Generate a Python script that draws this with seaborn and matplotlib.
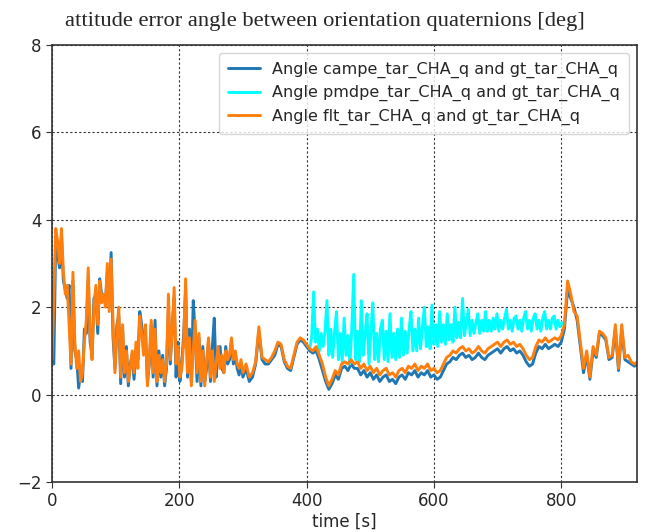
import matplotlib
matplotlib.use("Agg")
import matplotlib.pyplot as plt
import numpy as np
import pandas as pd
import seaborn as sns

# Sampling grids [s]
t_dense = list(range(0, 301, 3))      # 0 .. 300 s
t_coarse = list(range(305, 921, 5))   # 305 .. 920 s
t_pmdpe = list(range(405, 805, 3))    # 405 .. 804 s

# Attitude error angle [deg], campe vs ground truth
campe_dense = [
    2.6, 0.7, 3.6, 3.2, 2.9, 3.6, 2.6, 2.4, 2.2, 2.5,
    0.6, 2.6, 1.0, 0.8, 0.15, 0.5, 0.3, 1.5, 1.4, 2.6,
    1.2, 0.9, 2.2, 2.3, 1.4, 2.65, 2.3, 2.2, 2.1, 2.8,
    2.0, 3.25, 1.3, 0.6, 1.6, 1.8, 0.25, 1.5, 0.4, 1.1,
    0.2, 0.7, 0.9, 0.35, 1.0, 0.8, 1.9, 1.6, 1.2, 1.4,
    0.3, 0.7, 1.6, 0.4, 1.7, 0.2, 1.0, 0.4, 0.9, 0.2,
    0.6, 2.0, 0.7, 1.6, 2.2, 0.4, 1.2, 0.3, 0.7, 1.4,
    2.4, 0.4, 1.5, 0.3, 2.15, 1.4, 0.3, 1.3, 0.2, 1.1,
    0.3, 0.6, 1.2, 0.3, 1.1, 1.75, 0.4, 1.0, 1.1, 0.6,
    0.5, 1.1, 0.7, 0.8, 1.2, 0.7, 0.9, 0.6, 0.45, 0.7,
    0.4,
]
campe_coarse = [
    0.6, 0.3, 0.4, 0.7, 1.45, 0.8, 0.7, 0.7, 0.8, 0.9,
    1.15, 1.1, 0.75, 0.6, 0.55, 0.85, 1.15, 1.25, 1.2, 1.1,
    1.0, 0.95, 1.0, 0.8, 0.55, 0.3, 0.12, 0.25, 0.45, 0.35,
    0.6, 0.65, 0.55, 0.7, 0.6, 0.6, 0.45, 0.55, 0.4, 0.5,
    0.35, 0.45, 0.3, 0.4, 0.45, 0.3, 0.35, 0.25, 0.4, 0.45,
    0.35, 0.5, 0.45, 0.55, 0.4, 0.5, 0.45, 0.55, 0.4, 0.45,
    0.35, 0.4, 0.55, 0.7, 0.75, 0.85, 0.8, 0.9, 0.95, 0.85,
    0.9, 0.8, 0.85, 0.95, 0.85, 0.8, 0.9, 0.95, 1.0, 1.05,
    0.95, 1.05, 1.1, 1.0, 1.05, 0.95, 1.0, 0.9, 0.75, 0.65,
    0.7, 0.95, 1.1, 1.05, 1.15, 1.05, 1.1, 1.15, 1.1, 1.2,
    1.5, 2.4, 2.2, 2.0, 1.7, 1.1, 0.5, 0.9, 0.35, 1.0,
    0.85, 1.4, 1.35, 1.25, 0.8, 0.85, 1.5, 0.55, 1.5, 0.8,
    0.75, 0.7, 0.65, 0.7,
]

# pmdpe vs ground truth
pmdpe_vals = [
    1.05, 1.3, 2.35, 1.2, 1.5, 1.0, 1.4, 1.1, 1.45, 2.15,
    0.9, 1.5, 0.85, 1.45, 1.9, 0.8, 1.4, 0.75, 1.75, 0.9,
    1.35, 0.7, 1.5, 2.75, 0.8, 1.45, 0.75, 2.15, 0.9, 1.4,
    1.85, 0.7, 1.45, 2.1, 0.8, 1.4, 0.75, 1.5, 1.7, 0.8,
    1.45, 0.75, 1.85, 0.85, 1.4, 0.8, 1.5, 0.85, 1.75, 0.9,
    1.45, 0.95, 1.5, 1.9, 1.0, 1.5, 1.0, 1.75, 1.05, 1.55,
    2.0, 1.1, 1.55, 1.05, 2.05, 1.15, 1.6, 1.1, 1.9, 1.2,
    1.6, 1.15, 1.85, 1.25, 1.6, 1.2, 2.0, 1.3, 1.65, 1.3,
    2.2, 1.35, 1.65, 1.95, 1.35, 1.7, 1.4, 1.65, 1.85, 1.4,
    1.7, 1.45, 1.9, 1.45, 1.7, 1.45, 1.75, 1.5, 1.85, 1.45,
    1.7, 1.5, 1.75, 1.95, 1.5, 1.7, 1.45, 1.75, 1.8, 1.5,
    1.7, 1.45, 1.75, 1.9, 1.5, 1.7, 1.45, 1.75, 1.85, 1.5,
    1.7, 1.45, 1.75, 1.9, 1.5, 1.7, 1.5, 1.75, 1.8, 1.5,
    1.7, 1.55, 1.65, 1.6,
]

# filtered estimate vs ground truth
flt_dense = [
    0.8, 2.2, 3.8, 3.5, 3.0, 3.8, 2.8, 2.3, 2.5, 1.6,
    0.7, 2.8, 1.2, 0.6, 1.0, 0.3, 0.5, 1.2, 1.7, 2.9,
    1.4, 0.8, 2.0, 2.5, 1.6, 2.6, 2.1, 2.3, 2.0, 3.0,
    1.9, 3.1, 1.6, 0.5, 1.4, 2.0, 0.4, 1.6, 0.5, 1.0,
    0.3, 0.6, 1.0, 0.5, 1.2, 0.6, 1.8, 1.4, 0.9, 1.6,
    0.2, 0.8, 1.7, 0.5, 1.5, 0.3, 0.9, 0.5, 0.8, 0.3,
    0.7, 2.3, 0.8, 1.5, 2.45, 0.7, 1.1, 0.4, 0.6, 1.2,
    2.65, 0.5, 1.3, 0.2, 1.0, 1.7, 0.5, 1.4, 0.3, 1.0,
    0.2, 0.8, 1.3, 0.4, 1.0, 0.3, 0.7, 1.1, 0.6, 0.9,
    0.5, 1.0, 0.8, 0.9, 1.3, 0.8, 1.0, 0.7, 0.6, 0.8,
    0.5,
]
flt_coarse = [
    0.7, 0.4, 0.5, 0.75, 1.55, 0.85, 0.8, 0.75, 0.85, 1.0,
    1.2, 1.15, 0.8, 0.65, 0.6, 0.9, 1.2, 1.3, 1.25, 1.15,
    1.05, 1.0, 1.1, 0.9, 0.7, 0.4, 0.2, 0.35, 0.55, 0.45,
    0.7, 0.75, 0.7, 0.8, 0.7, 0.75, 0.6, 0.7, 0.55, 0.65,
    0.5, 0.6, 0.45, 0.55, 0.6, 0.45, 0.5, 0.4, 0.55, 0.6,
    0.5, 0.65, 0.6, 0.7, 0.55, 0.65, 0.6, 0.7, 0.55, 0.6,
    0.5, 0.55, 0.7, 0.85, 0.9, 1.0, 0.95, 1.05, 1.1, 1.0,
    1.05, 0.95, 1.0, 1.1, 1.0, 0.95, 1.05, 1.1, 1.15, 1.2,
    1.1, 1.2, 1.25, 1.15, 1.2, 1.1, 1.15, 1.05, 0.9, 0.8,
    0.85, 1.1, 1.25, 1.2, 1.3, 1.2, 1.25, 1.3, 1.25, 1.35,
    1.6, 2.6, 2.3, 1.9, 1.8, 1.2, 0.6, 1.0, 0.4, 1.1,
    0.9, 1.45, 1.4, 1.3, 0.85, 0.9, 1.6, 0.6, 1.6, 0.85,
    0.9, 0.75, 0.7, 0.75,
]

labels = [
    "Angle campe_tar_CHA_q and gt_tar_CHA_q",
    "Angle pmdpe_tar_CHA_q and gt_tar_CHA_q",
    "Angle flt_tar_CHA_q and gt_tar_CHA_q",
]
colors = ["#1f77b4", "#00ffff", "#ff7f0e"]

frames = [
    pd.DataFrame({"t": t_dense + t_coarse, "angle": campe_dense + campe_coarse, "series": labels[0]}),
    pd.DataFrame({"t": t_pmdpe, "angle": pmdpe_vals, "series": labels[1]}),
    pd.DataFrame({"t": t_dense + t_coarse, "angle": flt_dense + flt_coarse, "series": labels[2]}),
]
df = pd.concat(frames, ignore_index=True)

sns.set_style("ticks")
plt.rcParams["font.family"] = ["DejaVu Sans"]

fig = plt.figure(figsize=(6.49, 5.32), dpi=100)
ax = fig.add_axes([0.080, 0.094, 0.9015, 0.8214])

sns.lineplot(data=df, x="t", y="angle", hue="series", hue_order=labels,
             palette=colors, sort=False, estimator=None, linewidth=2.1, ax=ax)

ax.set_xlim(0, 919)
ax.set_ylim(-2, 8)
ax.set_xticks([0, 200, 400, 600, 800])
ax.set_yticks([-2, 0, 2, 4, 6, 8])
ax.grid(True, linestyle=(0, (2, 2)), color="#333333", linewidth=0.8)
ax.tick_params(labelsize=12, length=4, color="#333333")
for s in ax.spines.values():
    s.set_linewidth(1.2)
    s.set_color("#333333")
ax.set_xlabel("time [s]", fontsize=12, labelpad=2)
ax.set_ylabel("")

handles, _ = ax.get_legend_handles_labels()
ax.legend(handles, labels, loc="upper right", fontsize=11.5,
          handlelength=2.0, borderpad=0.55, labelspacing=0.45,
          borderaxespad=0.5, framealpha=0.8)

fig.suptitle("attitude error angle between orientation quaternions [deg]",
             fontsize=16.2, family="Liberation Serif", y=0.978)

fig.savefig("out.png", dpi=100)
